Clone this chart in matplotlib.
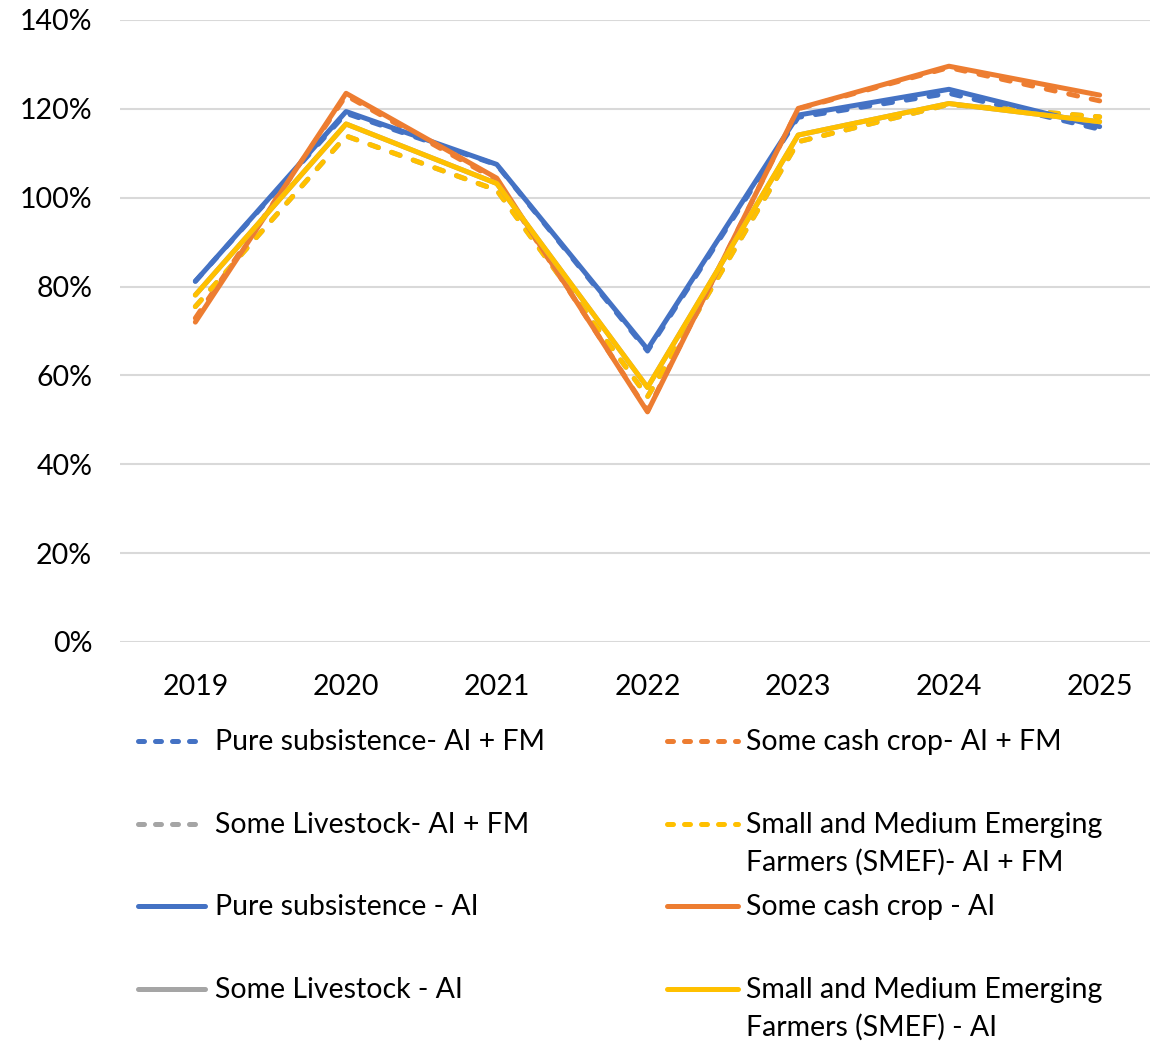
import matplotlib
matplotlib.use("Agg")
import matplotlib.pyplot as plt
from matplotlib.lines import Line2D

plt.rcParams["font.family"] = ["Lato", "DejaVu Sans"]

years = ["2019", "2020", "2021", "2022", "2023", "2024", "2025"]

# values as fractions
pure_fm = [0.812, 1.190, 1.074, 0.655, 1.181, 1.235, 1.154]
cash_fm = [0.729, 1.230, 1.040, 0.520, 1.200, 1.293, 1.218]
live_fm = [0.755, 1.139, 1.017, 0.552, 1.126, 1.210, 1.182]
smef_fm = [0.755, 1.139, 1.017, 0.552, 1.126, 1.210, 1.182]
pure_ai = [0.812, 1.194, 1.075, 0.659, 1.186, 1.244, 1.160]
cash_ai = [0.720, 1.235, 1.044, 0.518, 1.201, 1.296, 1.231]
live_ai = [0.781, 1.166, 1.032, 0.573, 1.141, 1.212, 1.171]
smef_ai = [0.781, 1.166, 1.032, 0.573, 1.141, 1.212, 1.171]

labels = [
    "Pure subsistence- AI + FM",
    "Some cash crop- AI + FM",
    "Some Livestock- AI + FM",
    "Small and Medium Emerging\nFarmers (SMEF)- AI + FM",
    "Pure subsistence - AI",
    "Some cash crop - AI",
    "Some Livestock - AI",
    "Small and Medium Emerging\nFarmers (SMEF) - AI",
]
series = [pure_fm, cash_fm, live_fm, smef_fm, pure_ai, cash_ai, live_ai, smef_ai]
colors = ["#4472C4", "#ED7D31", "#A5A5A5", "#FFC000"] * 2
dashed = [True] * 4 + [False] * 4

LW = 3.6
DASH = (1.8, 2.8)
FS = 20.5

fig = plt.figure(figsize=(11.5, 10.41), dpi=100)
ax = fig.add_axes([120 / 1150, 1 - 642 / 1041, 1055 / 1150, 622 / 1041])

x = list(range(len(years)))
for vals, c, d in zip(series, colors, dashed):
    if d:
        ax.plot(x, vals, color=c, lw=LW, dashes=DASH, dash_capstyle="round",
                solid_joinstyle="round")
    else:
        ax.plot(x, vals, color=c, lw=LW, solid_capstyle="round",
                solid_joinstyle="round")

ax.set_xlim(-0.5, 6.5)
ax.set_ylim(0, 1.4)
ax.set_yticks([i / 5 for i in range(8)])
ax.set_yticklabels([f"{i * 20}%" for i in range(8)])
ax.set_xticks(x)
ax.set_xticklabels(years)
ax.tick_params(length=0, labelsize=FS, colors="#000000")
ax.tick_params(axis="x", pad=23)
ax.tick_params(axis="y", pad=20)
ax.grid(axis="y", color="#D9D9D9", lw=1.5)
ax.set_axisbelow(True)
for s in ax.spines.values():
    s.set_visible(False)

# legend laid out like the Excel one: 2 columns, fixed row pitch
col_x = [(138, 205, 215), (667, 738, 746)]
row_y = [741, 824, 906, 989]
for i, (lab, c, d) in enumerate(zip(labels, colors, dashed)):
    r, col = divmod(i, 2)
    x0, x1, tx = col_x[col]
    y = 1 - row_y[r] / 1041
    ln = Line2D([x0 / 1150, x1 / 1150], [y, y], transform=fig.transFigure,
                color=c, lw=LW)
    if d:
        ln.set_dashes((1.2, 2.2))
        ln.set_dash_capstyle("round")
    else:
        ln.set_solid_capstyle("round")
    fig.add_artist(ln)
    fig.text(tx / 1150, y + 12 / 1041, lab, fontsize=FS, va="top",
             ha="left", linespacing=1.5)

fig.savefig("out.png", dpi=100)
